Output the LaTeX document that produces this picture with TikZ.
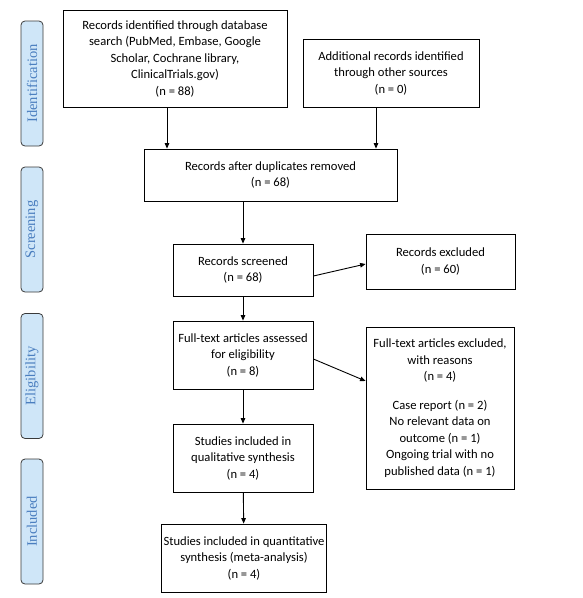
\documentclass[tikz,border=0pt]{standalone}
\usepackage{fontspec}
\setmainfont{Carlito}
\newfontfamily\phasefont{Liberation Serif}
\usetikzlibrary{arrows.meta}
\definecolor{phasefill}{HTML}{CFE6F8}
\definecolor{phasetext}{HTML}{4A7EBF}
\definecolor{phaseline}{HTML}{3A3A3A}
\begin{document}
\begin{tikzpicture}[
    x=1pt, y=-1pt,
    box/.style={rectangle, draw, line width=0.8pt, align=center, inner sep=2pt, font=\fontsize{12.6}{16.5}\selectfont},
    phase/.style={rectangle, draw=phaseline, fill=phasefill, rounded corners=4pt, line width=0.8pt, minimum width=125pt, minimum height=22pt, rotate=90, text=phasetext, font=\phasefont\fontsize{14.5}{15}\selectfont},
    flow/.style={-{Triangle[length=5.5pt, width=4.5pt]}, line width=0.9pt}
]
\useasboundingbox (0,0) rectangle (583,598);

% Phase labels on the left
\foreach \name/\y in {Identification/83.5, Screening/229.5, Eligibility/376, Included/521.5}
  \node[phase] (ph-\name) at (32,\y) {\name};

% Identification
\node[box, minimum width=224pt, minimum height=97pt] (db) at (175,58.5) {Records identified through database\\
search (PubMed, Embase, Google\\
Scholar, Cochrane library,\\
ClinicalTrials.gov)\\
(n = 88)};
\node[box, minimum width=176pt, minimum height=68pt] (other) at (391,73) {Additional records identified\\
through other sources\\
(n = 0)};

% Screening
\node[box, minimum width=253pt, minimum height=52pt] (dup) at (270.5,175) {Records after duplicates removed\\
(n = 68)};
\node[box, minimum width=140pt, minimum height=52pt] (scr) at (243,270) {Records screened\\
(n = 68)};
\node[box, minimum width=149pt, minimum height=55pt] (excl) at (440.5,261.5) {Records excluded\\
(n = 60)};

% Eligibility
\node[box, minimum width=140pt, minimum height=68pt] (full) at (243,355) {Full-text articles assessed\\
for eligibility\\
(n = 8)};
\node[box, minimum width=148pt, minimum height=162pt] (fullexcl) at (440,408) {Full-text articles excluded,\\
with reasons\\
(n = 4)\\[12pt]
Case report (n = 2)\\
No relevant data on\\
outcome (n = 1)\\
Ongoing trial with no\\
published data (n = 1)};

% Included
\node[box, minimum width=140pt, minimum height=68pt] (qual) at (243,458) {Studies included in\\
qualitative synthesis\\
(n = 4)};
\node[box, minimum width=164pt, minimum height=68pt] (quant) at (244,558) {Studies included in quantitative\\
synthesis (meta-analysis)\\
(n = 4)};

% Arrows
\draw[flow] ([xshift=-8pt]db.south) -- ([xshift=-8pt]db.south |- dup.north);
\draw[flow] ([xshift=-15pt]other.south) -- ([xshift=-15pt]other.south |- dup.north);
\draw[flow] (dup.south -| scr.north) -- (scr.north);
\draw[flow] ([yshift=-6pt]scr.east) -- ([yshift=-2.5pt]excl.west);
\draw[flow] (scr) -- (full);
\draw[flow] ([yshift=-4pt]full.east) -- ([yshift=27pt]fullexcl.west);
\draw[flow] (full) -- (qual);
\draw[flow] (qual) -- (quant);

\end{tikzpicture}
\end{document}
